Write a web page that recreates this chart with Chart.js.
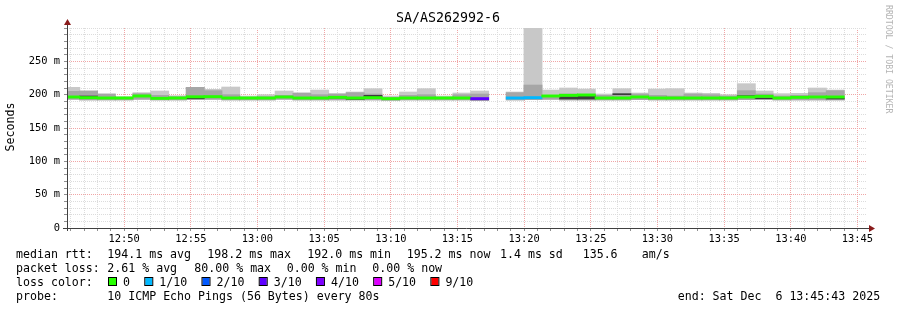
<!DOCTYPE html>
<html>
<head>
<meta charset="utf-8">
<title>SA/AS262992-6</title>
<script src="https://cdn.jsdelivr.net/npm/chart.js@4.4.1/dist/chart.umd.min.js"></script>
<style>
    html, body { margin: 0; padding: 0; background: #fff; }
    canvas { display: block; }
</style>
</head>
<body>
<canvas id="smokeChart" width="897" height="310"></canvas>
<script>
// --- Data (ms), one value per 80 s step ---
const binStart = '12:45:20';   // start of the first (clipped) step
const stepSeconds = 80;
const viewStart = '12:45:43';
const viewEnd = '13:45:43';

const medianRtt = [
    196.5, 195.5, 195, 195, 198, 194.5, 195, 196.8, 197, 195,
    195, 195, 196.5, 195, 195, 196, 195, 195.5, 194, 195,
    195, 195, 195, 194, null, 195, 195.5, 198, 199, 199.5,
    195, 195, 196.5, 195, 195, 195, 195, 195, 196.5, 197.5,
    195, 196, 196.5, 196.5
];
const smokeMax = [
    211, 205.5, 201, 197, 203, 205.5, 198.5, 211, 208, 211.5,
    198, 200, 205.5, 203, 207, 201.5, 204, 209, 198, 204,
    209, 198, 202.5, 205.5, null, 204, 301, 207, 210, 208.5,
    201, 209, 202.5, 208.5, 209, 202.5, 202, 200, 216.5, 205.5,
    201.5, 202, 210, 207
];
const smokeMid = [
    205, 205.5, 201, 196, 201.5, 199, 197, 211, 206, 200,
    196, 197, 199, 202, 200, 201, 203, 201, 196, 199,
    200, 196, 200, 201, null, 203, 214.5, 199, 201, 200,
    199, 201, 201, 199, 198, 201, 200, 198, 206, 201,
    198, 199, 203, 206
];
const smokeMin = [
    193, 192, 192, 192, 193, 192, 192, 192.5, 193, 192,
    192, 192, 193, 192, 192, 192, 192, 192, 191.5, 192,
    192, 192, 192, 191, null, 192, 192.5, 193, 192, 192,
    192, 192, 192.5, 192, 192, 192, 192, 192, 192.5, 192.5,
    192, 192, 192, 192
];
const coreLow = [
    null, 196.5, null, null, null, null, null, 194, null, null,
    null, null, null, null, null, 195, 193, 197, null, null,
    null, null, null, null, null, null, null, null, 193.5, 193.5,
    null, 200, null, null, null, null, null, null, 197.5, 194,
    null, null, null, 193.5
];
const coreHigh = [
    null, 198, null, null, null, null, null, 195.5, null, null,
    null, null, null, null, null, 196.5, 194.5, 199, null, null,
    null, null, null, null, null, null, null, null, 197, 198.5,
    null, 201.5, null, null, null, null, null, null, 198.5, 195,
    null, null, null, 194.7
];
const lostPings = [
    0, 0, 0, 0, 0, 0, 0, 0, 0, 0,
    0, 0, 0, 0, 0, 0, 0, 0, 0, 0,
    0, 0, 0, 3, 8, 1, 1, 0, 0, 0,
    0, 0, 0, 0, 0, 0, 0, 0, 0, 0,
    0, 0, 0, 0
];

const xTickLabels = ['12:50', '12:55', '13:00', '13:05', '13:10', '13:15',
                     '13:20', '13:25', '13:30', '13:35', '13:40', '13:45'];
const yTickValues = [0, 50, 100, 150, 200, 250];
const yTickLabels = ['0', '50 m', '100 m', '150 m', '200 m', '250 m'];

const lossThresholds = [0, 1, 2, 3, 4, 5, 9];
const lossLabels = ['0', '1/10', '2/10', '3/10', '4/10', '5/10', '9/10'];
const lossColors = ['#26ff00', '#00b8ff', '#0059ff', '#5e00ff', '#7e00ff', '#dd00ff', '#ff0000'];

// --- helpers ---
const toSec = s => {
    const [h, m, sec] = s.split(':').map(Number);
    return h * 3600 + m * 60 + (sec || 0);
};
const xMin = toSec(viewStart);
const xMax = toSec(viewEnd);
const binCenters = medianRtt.map((_, i) => toSec(binStart) + stepSeconds * i + stepSeconds / 2);
const lossColor = n => {
    let c = lossColors[0];
    lossThresholds.forEach((t, k) => { if (n >= t) c = lossColors[k]; });
    return c;
};

const PLOT_W = 800;
const barPx = PLOT_W * stepSeconds / (xMax - xMin) + 0.4;
const MEDIAN_HALF = 1.7; // ms, thickness of the median line

const FONT = "'DejaVu Sans Mono', monospace";
const minorGrid = '#dcdcdc';
const majorGrid = '#f0a6a6';

const xLabelAt = {};
xTickLabels.forEach(l => { xLabelAt[toSec(l)] = l; });
const yLabelAt = {};
yTickValues.forEach((v, i) => { yLabelAt[v] = yTickLabels[i]; });

const minuteTicks = [];
for (let t = Math.ceil(xMin / 60) * 60; t <= xMax; t += 60) minuteTicks.push(t);
const msTicks = [];
for (let v = 0; v <= 300; v += 10) msTicks.push(v);

const band = (lo, hi, color, order) => ({
    data: binCenters
        .map((x, i) => (lo[i] == null || hi[i] == null) ? null : { x, y: [lo[i], hi[i]] })
        .filter(p => p),
    backgroundColor: color,
    order
});

const medianBars = {
    data: binCenters
        .map((x, i) => medianRtt[i] == null ? null
            : { x, y: [medianRtt[i] - MEDIAN_HALF, medianRtt[i] + MEDIAN_HALF], loss: lostPings[i] })
        .filter(p => p),
    backgroundColor: ctx => lossColor(ctx.raw ? ctx.raw.loss : 0),
    order: 0
};

// --- RRDtool style decorations: title, axes, arrows, legend ---
const rrdDecor = {
    id: 'rrdDecor',
    beforeDraw(chart) {
        const ctx = chart.ctx;
        ctx.save();
        ctx.fillStyle = '#fff';
        ctx.fillRect(0, 0, chart.width, chart.height);
        ctx.restore();
    },
    afterDraw(chart) {
        const { ctx, chartArea: a } = chart;
        ctx.save();

        // axes
        ctx.strokeStyle = '#404040';
        ctx.lineWidth = 1;
        ctx.beginPath();
        ctx.moveTo(a.left + 0.5, a.top - 5);
        ctx.lineTo(a.left + 0.5, a.bottom + 3);
        ctx.moveTo(a.left - 4, a.bottom + 0.5);
        ctx.lineTo(a.right + 3, a.bottom + 0.5);
        ctx.stroke();

        // arrows
        ctx.fillStyle = '#8a1c1c';
        ctx.beginPath();
        ctx.moveTo(a.left + 0.5, a.top - 9);
        ctx.lineTo(a.left - 3, a.top - 3);
        ctx.lineTo(a.left + 4, a.top - 3);
        ctx.closePath();
        ctx.fill();
        ctx.beginPath();
        ctx.moveTo(a.right + 8, a.bottom + 0.5);
        ctx.lineTo(a.right + 2, a.bottom - 3);
        ctx.lineTo(a.right + 2, a.bottom + 4);
        ctx.closePath();
        ctx.fill();

        // title
        ctx.fillStyle = '#000';
        ctx.textBaseline = 'middle';
        ctx.textAlign = 'center';
        ctx.font = '13.3px ' + FONT;
        ctx.fillText('SA/AS262992-6', 448, 19);

        // y axis title
        ctx.font = '11.6px ' + FONT;
        ctx.save();
        ctx.translate(11, 127);
        ctx.rotate(-Math.PI / 2);
        ctx.fillText('Seconds', 0, 0);
        ctx.restore();

        // watermark
        ctx.save();
        ctx.font = '8.2px ' + FONT;
        ctx.fillStyle = '#b4b4b4';
        ctx.textAlign = 'left';
        ctx.translate(888.5, 5);
        ctx.rotate(Math.PI / 2);
        ctx.fillText('RRDTOOL / TOBI OETIKER', 0, 0);
        ctx.restore();

        // legend
        ctx.font = '11.6px ' + FONT;
        ctx.textAlign = 'left';
        ctx.fillStyle = '#000';
        const rows = [
            [254.5, [['median rtt:', 16], ['194.1 ms avg', 107.3], ['198.2 ms max', 207.3],
                     ['192.0 ms min', 307.3], ['195.2 ms now', 406.7], ['1.4 ms sd', 500],
                     ['135.6', 582.7], ['am/s', 641.7]]],
            [268.5, [['packet loss:', 16], ['2.61 % avg', 107.3], ['80.00 % max', 194.3],
                     ['0.00 % min', 286.7], ['0.00 % now', 372.3]]],
            [282.5, [['loss color:', 16]]],
            [296.5, [['probe:', 16], ['10 ICMP Echo Pings (56 Bytes) every 80s', 107.3],
                     ['end: Sat Dec  6 13:45:43 2025', 677.7]]]
        ];
        rows.forEach(([y, items]) => items.forEach(([t, x]) => ctx.fillText(t, x, y)));

        let bx = 109;
        lossLabels.forEach((lab, k) => {
            ctx.fillStyle = lossColors[k];
            ctx.fillRect(bx, 278, 7, 7);
            ctx.strokeStyle = '#000';
            ctx.strokeRect(bx - 0.5, 277.5, 8, 8);
            ctx.fillStyle = '#000';
            ctx.fillText(lab, bx + 14, 282.5);
            bx += 14 + ctx.measureText(lab).width + 15.3;
        });

        ctx.restore();
    }
};

new Chart(document.getElementById('smokeChart'), {
    type: 'bar',
    data: {
        datasets: [
            band(smokeMin, smokeMax, '#c8c8c8', 3),
            band(smokeMin, smokeMid, '#a6a6a6', 2),
            band(coreLow, coreHigh, '#3c3c3c', 1),
            medianBars
        ]
    },
    options: {
        responsive: false,
        animation: false,
        events: [],
        layout: { padding: { top: 28, right: 30, left: 0, bottom: 0 } },
        plugins: { legend: { display: false }, tooltip: { enabled: false } },
        datasets: {
            bar: { grouped: false, barThickness: barPx, borderWidth: 0, borderSkipped: false }
        },
        scales: {
            x: {
                type: 'linear',
                min: xMin,
                max: xMax,
                offset: false,
                afterBuildTicks: s => { s.ticks = minuteTicks.map(v => ({ value: v })); },
                afterFit: s => { s.height = 82; },
                ticks: {
                    autoSkip: false,
                    maxRotation: 0,
                    padding: 2,
                    color: '#000',
                    font: { family: FONT, size: 10.4 },
                    callback: v => xLabelAt[v] || ''
                },
                grid: {
                    offset: false,
                    color: c => (c.tick && xLabelAt[c.tick.value]) ? majorGrid : minorGrid,
                    lineWidth: 1,
                    drawTicks: true,
                    tickLength: 3,
                    tickColor: '#909090'
                },
                border: { display: false, dash: [1, 1] }
            },
            y: {
                type: 'linear',
                min: 0,
                max: 300,
                afterBuildTicks: s => { s.ticks = msTicks.map(v => ({ value: v })); },
                afterFit: s => { s.width = 67; },
                ticks: {
                    autoSkip: false,
                    padding: 4,
                    color: '#000',
                    font: { family: FONT, size: 10.4 },
                    callback: v => yLabelAt[v] || ''
                },
                grid: {
                    color: c => (c.tick && c.tick.value > 0 && yLabelAt[c.tick.value]) ? majorGrid : minorGrid,
                    lineWidth: 1,
                    drawTicks: true,
                    tickLength: 3,
                    tickColor: '#909090'
                },
                border: { display: false, dash: [1, 1] }
            }
        }
    },
    plugins: [rrdDecor]
});
</script>
</body>
</html>
